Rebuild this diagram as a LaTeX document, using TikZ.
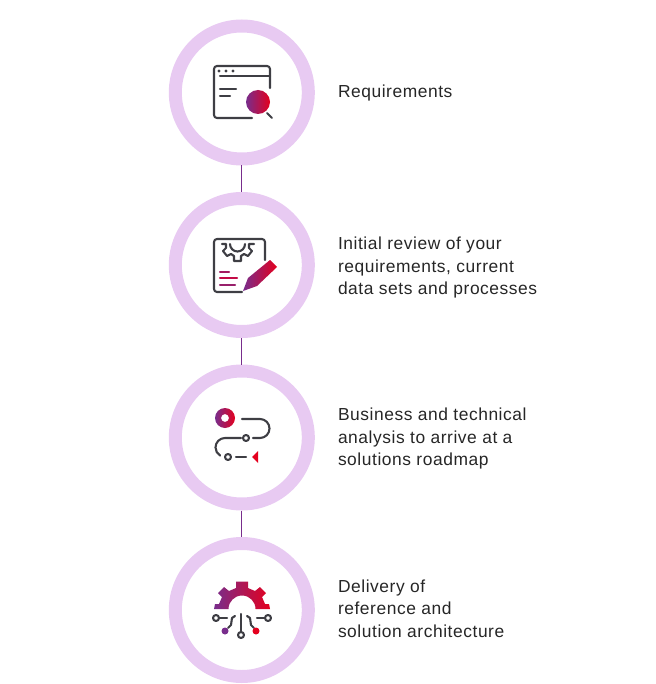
\documentclass[tikz,border=0pt]{standalone}
\usepackage{fontspec}
\setmainfont[LetterSpace=3.2]{Liberation Sans}
\usetikzlibrary{positioning}
\definecolor{ringlilac}{RGB}{232,202,242}
\definecolor{icongrey}{RGB}{62,62,68}
\definecolor{labeltext}{RGB}{38,38,38}
\definecolor{gradpurple}{RGB}{120,45,140}
\definecolor{gradmid}{RGB}{195,10,70}
\definecolor{gradred}{RGB}{228,0,30}
\tikzset{
  stepring/.style={draw=ringlilac, circle, line width=13pt, minimum size=133pt, inner sep=0pt},
  steptext/.style={align=left, inner sep=0pt, text=labeltext, font=\fontsize{17.4}{22.5}\selectfont},
  iconline/.style={draw=icongrey, line width=2.1pt, line cap=round, line join=round},
  gradfill/.style={left color=gradpurple, middle color=gradmid, right color=gradred, draw=none},
  gradline/.style={line width=2.1pt, line cap=round}
}
\begin{document}
\begin{tikzpicture}[x=1pt, y=-1pt, node distance=26.5pt]
        \useasboundingbox (0,0) rectangle (655,684);
        % Draw the rings
        \node (review1)  [stepring] at (241.8,92.5) {};
        \node (review2)  [stepring, below=of review1] {};
        \node (review3)  [stepring, below=of review2] {};
        \node (review4)  [stepring, below=of review3] {};

        % Draw the labels
        \node (label1) [steptext, right=23pt of review1, yshift=-1pt] {Requirements};
        \node (label2) [steptext, right=23pt of review2, yshift=-2.6pt] {Initial review of your\\requirements, current\\data sets and processes};
        \node (label3) [steptext, right=23pt of review3, yshift=-1pt] {Business and technical\\analysis to arrive at a\\solutions roadmap};
        \node (label4) [steptext, right=23pt of review4, yshift=1.3pt] {Delivery of\\reference and\\solution architecture};

        % Draw the connecting lines
        \draw [gradpurple, line width=1pt] (review1) -- (review2);
        \draw [gradpurple, line width=1pt] (review2) -- (review3);
        \draw [gradpurple, line width=1pt] (review3) -- (review4);

        % First icon
        \draw [iconline] (270,88) -- (270,69) arc (0:-90:3) -- (217,66) arc (-90:-180:3) -- (214,115) arc (180:90:3) -- (252,118);
        \draw [iconline] (220,76) -- (270,76);
        \foreach \dotx in {219,226,233}
          \fill [icongrey] (\dotx,71) circle (1.6);
        \draw [iconline] (220,89) -- (236,89);
        \draw [iconline] (220,96) -- (230,96);
        \shade [gradfill] (258,102) circle (12);
        \draw [iconline] (267,113) -- (272,118);

        % Second icon
        \draw [iconline] (265,260) -- (265,242) arc (0:-90:3) -- (217,239) arc (-90:-180:3) -- (214,289) arc (180:90:3) -- (242,292);
        \draw [iconline] (222,244) -- (226,244) -- (226,248) -- (223,251) -- (227,256) -- (231,254) -- (234,256)
          -- (234,261) -- (241,261) -- (241,256) -- (244,254) -- (248,256) -- (252,251) -- (249,248) -- (249,244) -- (254,244);
        \draw [iconline] (230,244) arc (180:0:7.5);
        \shade [gradfill] (243,291) -- (248,278) -- (270,260) -- (277,267) -- (257,286) -- cycle;
        \draw [gradline, gradpurple!60!gradred] (220,272) -- (229,272);
        \draw [gradline, gradmid] (220,278) -- (237,278);
        \draw [gradline, gradpurple!70!gradred] (220,285) -- (235,285);

        % Third icon
        \shade [gradfill, even odd rule] (225,418) circle (10) circle (4);
        \draw [iconline] (242,419) -- (260,419) arc (-90:90:9.5) -- (253,438);
        \draw [iconline] (241,438) -- (225,438) arc (-90:-240:9.5);
        \draw [iconline] (246,438) circle (3);
        \draw [iconline] (228,457) circle (3);
        \draw [iconline] (236,457) -- (246,457);
        \fill [gradred] (258,451) -- (258,463) -- (252,457) -- cycle;

        % Fourth icon
        \shade [gradfill] (214,609) -- (215,604) -- (219,604) -- (222,597) -- (218,593) -- (224,587) -- (229,591) -- (236,588)
          -- (236,581.5) -- (248,581.5) -- (248,588) -- (255,591) -- (260,587) -- (266,593) -- (262,597) -- (265,604) -- (269,604)
          -- (270,609) -- (255.5,609) arc (0:-180:13.5) -- cycle;
        \draw [iconline] (216,618) circle (3);
        \draw [iconline] (219,618) -- (227,618);
        \draw [iconline] (268,618) circle (3);
        \draw [iconline] (265,618) -- (257,618);
        \draw [iconline] (241,614) -- (241,632);
        \draw [iconline] (241,635) circle (3);
        \draw [iconline] (235,616) -- (232,618) -- (231,625) -- (228,628);
        \draw [iconline] (247,616) -- (250,618) -- (251,625) -- (254,628);
        \fill [gradpurple] (225,631) circle (3.5);
        \fill [gradred] (256,631) circle (3.5);
    \end{tikzpicture}
\end{document}
